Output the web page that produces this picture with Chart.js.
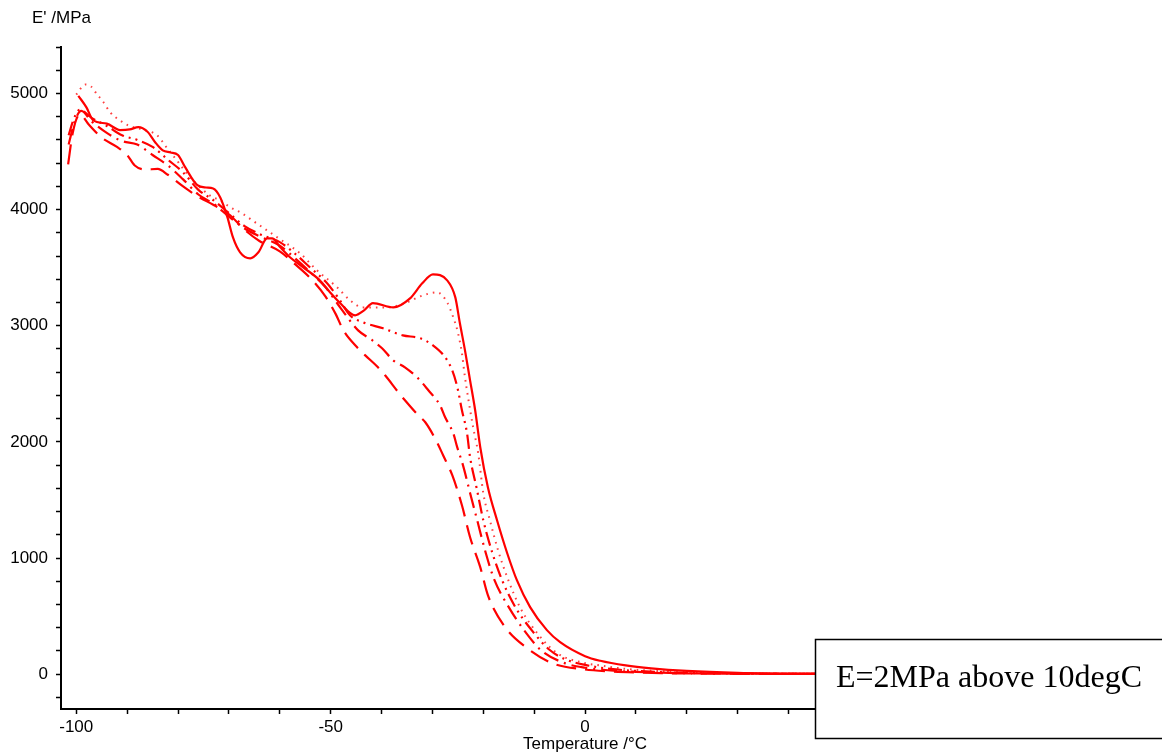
<!DOCTYPE html>
<html>
<head>
<meta charset="utf-8">
<script src="https://cdn.jsdelivr.net/npm/chart.js@4"></script>
<style>
html, body { margin: 0; padding: 0; background: #fff; }
canvas { display: block; }
</style>
</head>
<body>
<canvas id="chart" width="1162" height="755"></canvas>
<script>
// E' (MPa) against temperature (°C), five runs

const tSolid = [-99.6, -98, -96.7, -94, -91.4, -89.5, -87.8, -86.0, -84.5, -83.0, -81.5, -80.0, -78.6, -76.2, -74.5, -73.1, -71.7, -70.3, -69.2, -67.8, -65.8, -64.2, -62.5, -61.5, -59.9, -58.0, -55.4, -52.1, -50.1, -48.1, -45.2, -43.5, -41.7, -37.7, -34.4, -32.0, -29.9, -27.1, -25.5, -24.6, -23.6, -22.6, -21.6, -20.6, -19.1, -17.3, -15.3, -13.4, -10.8, -7.5, -4.9, 0, 3, 8, 13, 20, 30, 45, 60, 80, 113];
const eSolid = [4980, 4880, 4770, 4740, 4685, 4690, 4710, 4670, 4580, 4510, 4492, 4470, 4365, 4210, 4190, 4182, 4105, 3935, 3760, 3632, 3580, 3632, 3752, 3752, 3675, 3590, 3503, 3390, 3287, 3193, 3090, 3130, 3195, 3158, 3236, 3365, 3442, 3391, 3244, 3021, 2788, 2530, 2272, 1954, 1609, 1325, 1041, 809, 577, 379, 275, 155, 115, 75, 50, 28, 12, 4, 2, 2, 2];

const tDotted = [-100, -98.2, -97.1, -95.9, -94.9, -93.3, -91.4, -89.8, -87, -84.1, -82.1, -80.2, -78.6, -77.0, -73.7, -71.7, -69.7, -67.4, -65.4, -60.5, -56.0, -52.7, -48.7, -46.2, -43.6, -38.9, -35.0, -32.4, -29.1, -27.1, -25.9, -25.0, -24.2, -23.6, -23.0, -22.0, -21.0, -20.0, -18.7, -17.1, -15.3, -12.8, -9.4, -5.5, 0, 3, 8, 13, 20, 30, 45, 60, 113];
const eDotted = [4990, 5077, 5060, 4991, 4940, 4836, 4768, 4725, 4690, 4639, 4527, 4423, 4330, 4250, 4120, 4079, 4019, 3967, 3907, 3761, 3623, 3477, 3330, 3219, 3158, 3158, 3201, 3253, 3287, 3201, 3072, 2943, 2762, 2556, 2384, 2126, 1902, 1558, 1325, 1067, 835, 577, 353, 181, 95, 75, 45, 30, 17, 8, 3, 2, 2];

const tDashDotDot = [-101.5, -100.5, -99.3, -97, -94, -91, -88, -85, -82, -79, -76, -73, -70, -67, -64, -60, -57, -54, -51, -48.5, -46.2, -43.6, -39.7, -35.8, -32.4, -29.9, -27.5, -26.1, -25.1, -24.2, -23.2, -22.6, -21.3, -20.0, -18.2, -16.3, -13.7, -10.5, -7, -4, 0, 5, 10, 15, 20, 30, 45, 60, 113];
const eDashDotDot = [4640, 4780, 4860, 4790, 4720, 4640, 4600, 4540, 4430, 4320, 4170, 4080, 3970, 3860, 3790, 3720, 3620, 3500, 3380, 3240, 3090, 3029, 2978, 2917, 2892, 2831, 2728, 2616, 2470, 2272, 2074, 1868, 1600, 1325, 1041, 809, 577, 379, 210, 130, 80, 45, 28, 18, 11, 5, 2, 2, 2];

const tDashDot = [-101.5, -100.3, -99, -97, -94, -91, -88, -85, -82, -79, -76, -73, -70, -67, -64, -60, -57, -54, -51, -48, -44.6, -41.8, -39.9, -37.7, -35.4, -32.8, -30.8, -28.5, -27.5, -25.9, -25.1, -24.0, -22.6, -21.2, -19.5, -17.8, -15.0, -12.0, -8.5, -4, 0, 5, 10, 15, 20, 30, 45, 60, 113];
const eDashDot = [4560, 4760, 4850, 4760, 4660, 4590, 4560, 4470, 4380, 4260, 4130, 4050, 3940, 3840, 3770, 3690, 3580, 3460, 3330, 3150, 2960, 2874, 2806, 2702, 2642, 2547, 2444, 2315, 2212, 2074, 1950, 1800, 1560, 1325, 1041, 809, 577, 379, 200, 95, 55, 32, 20, 13, 8, 4, 2, 2, 2];

const tDashed = [-101.6, -100.7, -99.3, -97.5, -95, -92, -90, -88.5, -86.5, -84, -82, -79, -76, -73, -70, -67, -64, -60, -57, -54, -51, -49, -47.5, -44.8, -43.2, -40.7, -39.3, -36.7, -35.4, -32.8, -31.4, -29.1, -27.9, -26.1, -24.2, -22.6, -20.6, -19.1, -15.7, -11.4, -6.5, 0, 5, 10, 15, 20, 30, 45, 60, 113];
const eDashed = [4390, 4660, 4820, 4730, 4620, 4540, 4470, 4380, 4345, 4350, 4300, 4200, 4110, 4040, 3960, 3830, 3730, 3640, 3530, 3410, 3250, 3100, 2960, 2814, 2745, 2642, 2573, 2427, 2358, 2229, 2169, 1997, 1885, 1713, 1454, 1179, 921, 680, 404, 224, 95, 40, 24, 15, 9, 6, 3, 2, 2, 2];

const xTickLabels = [-100, -50, 0, 50, 100];
const yTickLabels = [0, 1000, 2000, 3000, 4000, 5000];
const noteText = 'E=2MPa above 10degC';

const RED = '#ff0000';
const sansFont = '"Liberation Sans", Arial, sans-serif';

function points(ts, es) {
  return ts.map((t, i) => ({ x: t, y: es[i] }));
}

function series(ts, es, dash, width, color) {
  return {
    data: points(ts, es),
    borderColor: color || RED,
    borderWidth: width,
    borderDash: dash,
    borderCapStyle: 'butt',
    pointRadius: 0,
    fill: false,
    cubicInterpolationMode: 'monotone'
  };
}

// axis titles and the note box on top of the plot
const annotations = {
  id: 'annotations',
  afterDraw(chart) {
    const ctx = chart.ctx;
    ctx.save();
    ctx.fillStyle = '#000';
    ctx.font = '17px ' + sansFont;
    ctx.textBaseline = 'alphabetic';
    ctx.textAlign = 'left';
    ctx.fillText("E' /MPa", 32, 23);
    ctx.textAlign = 'center';
    ctx.fillText('Temperature /°C', chart.scales.x.getPixelForValue(0), 749);

    ctx.fillStyle = '#fff';
    ctx.fillRect(815, 639, 360, 99);
    ctx.strokeStyle = '#000';
    ctx.lineWidth = 1.5;
    ctx.strokeRect(815.5, 639.5, 360, 99);
    ctx.fillStyle = '#000';
    ctx.font = '32px "Liberation Serif", "Times New Roman", serif';
    ctx.textAlign = 'left';
    ctx.fillText(noteText, 836, 687);
    ctx.restore();
  }
};

const axisGrid = {
  display: true,
  drawOnChartArea: false,
  drawTicks: true,
  tickLength: 5,
  tickColor: '#000',
  tickWidth: 1.5
};

new Chart(document.getElementById('chart'), {
  type: 'line',
  data: {
    datasets: [
      series(tDashed, eDashed, [20, 9], 2.2),
      series(tDashDot, eDashDot, [16, 6, 2, 6], 2.2),
      series(tDashDotDot, eDashDotDot, [14, 5, 2, 5, 2, 5], 2.2),
      series(tDotted, eDotted, [1.6, 5], 2, 'rgba(255,0,0,0.75)'),
      series(tSolid, eSolid, [], 2.2)
    ]
  },
  options: {
    responsive: false,
    animation: false,
    devicePixelRatio: 1,
    layout: { padding: { top: 47, right: 2, left: 0, bottom: 0 } },
    plugins: { legend: { display: false }, tooltip: { enabled: false } },
    scales: {
      x: {
        type: 'linear',
        position: 'bottom',
        min: -103,
        max: 113,
        grid: axisGrid,
        border: { display: true, color: '#000', width: 2 },
        ticks: {
          stepSize: 10,
          includeBounds: false,
          autoSkip: false,
          maxRotation: 0,
          padding: 3,
          color: '#000',
          font: { family: sansFont, size: 17 },
          callback: v => xTickLabels.includes(v) ? String(v) : ''
        },
        afterBuildTicks(scale) {
          scale.ticks = scale.ticks.filter(t => t.value % 10 === 0);
        },
        afterFit(scale) { scale.height = 46; }
      },
      y: {
        type: 'linear',
        min: -300,
        max: 5400,
        grid: axisGrid,
        border: { display: true, color: '#000', width: 2 },
        ticks: {
          stepSize: 200,
          includeBounds: false,
          autoSkip: false,
          padding: 8,
          color: '#000',
          font: { family: sansFont, size: 17 },
          callback: v => yTickLabels.includes(v) ? String(v) : ''
        },
        afterBuildTicks(scale) {
          scale.ticks = scale.ticks.filter(t => t.value % 200 === 0);
        },
        afterFit(scale) { scale.width = 61; }
      }
    }
  },
  plugins: [annotations]
});
</script>
</body>
</html>
